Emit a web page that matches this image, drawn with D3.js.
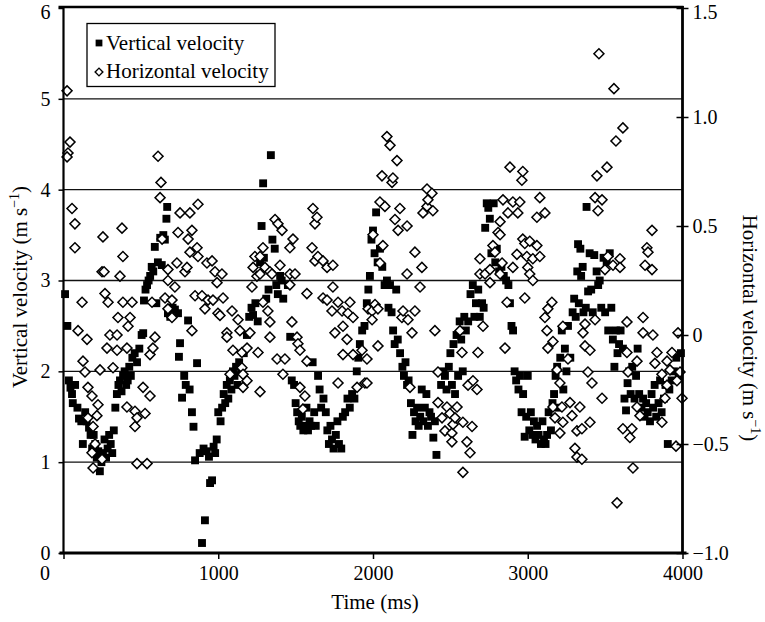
<!DOCTYPE html>
<html><head><meta charset="utf-8">
<script src="https://cdn.jsdelivr.net/npm/d3@7"></script>
<style>body{margin:0;background:#fff} text{font-family:"Liberation Serif","Times New Roman",serif;fill:#000}</style>
</head><body><svg id="c" width="765" height="622"></svg>
<script>
const xTicks=[0,1000,2000,3000,4000];
const leftTicks=[0,1,2,3,4,5,6];
const gridValues=[1,2,3,4,5];
const rightTicks=[-1.0,-0.5,0,0.5,1.0,1.5];
const rightTickLabels=["\u22121.0","\u22120.5","0","0.5","1.0","1.5"];
const seriesNames=["Vertical velocity","Horizontal velocity"];

// [time ms, vertical velocity m/s] (left axis)
const verticalVelocity=[
[10,2.85],[25,2.5],[35,1.9],[45,1.82],[55,1.75],[60,1.65],[75,1.85],[90,1.6],[100,1.48],[115,1.45],[125,1.2],[140,1.55],[150,1.45],[165,1.38],[175,1.3],[185,1.15],[195,1.3],[205,1.2],[215,1.05],[225,1.12],[235,0.9],[245,1.0],[255,1.1],[265,1.25],[275,1.05],[285,1.15],[295,1.3],[305,1.2],[315,1.1],[325,1.35],[335,1.6],[345,1.75],[355,1.85],[365,1.9],[375,1.78],[385,1.95],[395,2.0],[405,1.85],[415,1.9],[425,2.05],[435,1.95],[445,2.15],[460,2.2],[475,2.1],[490,2.25],[505,2.4],
[515,2.42],[520,2.78],[530,2.9],[540,2.95],[550,3.0],[560,3.05],[570,3.15],[580,3.1],[590,3.37],[600,2.75],[610,3.2],[625,3.47],[635,3.17],[645,3.5],[655,3.45],[665,3.68],[670,3.81],[675,2.64],[690,2.6],[705,2.7],[720,2.68],[740,2.64],[746,2.16],[753,2.31],[766,1.71],[780,1.95],[790,1.85],[805,2.56],[815,1.8],[830,1.55],[840,1.39],[850,1.02],[863,2.09],[880,1.1],[895,0.11],[905,1.15],[914,0.36],[925,1.12],[940,1.06],[947,0.77],[960,0.8],[970,1.17],[980,1.1],[990,1.25],
[1000,1.55],[1015,1.45],[1025,1.6],[1035,1.75],[1045,1.65],[1055,1.85],[1065,1.7],[1075,1.9],[1085,1.8],[1095,2.0],[1105,1.95],[1115,2.05],[1125,1.85],[1135,2.1],[1150,2.0],[1165,2.2],[1185,2.4],[1200,2.6],[1215,2.7],[1225,2.62],[1240,2.75],[1255,2.55],[1270,3.2],[1280,3.6],[1290,4.07],[1295,3.25],[1310,2.8],[1325,2.9],[1340,4.38],[1350,3.45],[1365,3.35],[1375,2.95],[1385,2.85],[1400,3.05],[1410,3.0],[1420,2.8],
[1450,2.95],[1465,2.38],[1475,1.9],[1490,1.85],[1500,1.65],[1510,1.55],[1520,1.45],[1530,1.4],[1540,1.5],[1550,1.35],[1560,1.4],[1570,1.6],[1580,1.35],[1590,1.45],[1600,1.4],[1610,2.1],[1620,1.55],[1630,1.4],[1645,1.95],[1655,1.8],[1665,1.6],[1680,1.7],[1695,1.55],[1705,1.35],[1715,1.2],[1725,1.4],[1735,1.25],[1745,1.15],[1760,1.3],[1770,1.45],[1780,1.2],[1795,1.15],[1805,1.5],[1820,1.55],[1835,1.7],[1850,1.6],[1865,1.75],[1880,1.7],[1895,2.0],[1905,2.15],[1915,2.3],[1930,2.45],[1945,2.5],[1960,2.75],[1970,2.9],[1980,3.05],[1990,3.45],[2000,3.55],
[2010,3.3],[2020,3.75],[2030,3.2],[2045,3.35],[2060,3.15],[2075,2.95],[2090,3.0],[2100,2.7],[2110,2.95],[2120,2.65],[2130,2.45],[2140,2.3],[2150,2.9],[2160,2.35],[2175,2.2],[2190,2.05],[2200,1.95],[2210,2.1],[2220,1.85],[2230,1.9],[2245,1.65],[2255,1.3],[2265,1.55],[2275,1.45],[2285,1.6],[2295,1.4],[2305,1.5],[2315,1.8],[2325,1.45],[2335,1.6],[2345,1.75],[2355,1.4],[2365,1.55],[2375,1.5],[2390,1.27],[2400,1.45],[2410,1.08],
[2440,1.85],[2455,2.0],[2465,1.95],[2475,1.8],[2490,2.05],[2500,2.2],[2510,1.85],[2520,2.3],[2530,1.75],[2540,2.4],[2550,1.95],[2560,2.55],[2570,2.35],[2580,2.0],[2590,2.6],[2600,2.45],[2615,2.55],[2630,2.85],[2645,2.95],[2655,2.6],[2665,2.75],[2680,2.9],[2690,2.6],[2705,2.75],[2715,2.7],[2725,3.58],[2735,3.85],[2745,3.8],[2755,3.68],[2765,3.3],[2780,3.85],[2790,3.2],[2800,3.35],[2815,3.1],[2830,3.15],[2845,3.05],[2860,3.0],
[2875,2.95],[2885,2.75],[2895,2.5],[2905,2.45],[2915,2.0],[2925,1.9],[2940,1.8],[2950,1.95],[2960,1.55],[2970,1.75],[2980,1.28],[2990,1.5],[3000,1.95],[3010,1.35],[3020,1.55],[3030,1.3],[3040,1.45],[3050,1.25],[3060,1.4],[3070,1.3],[3085,1.2],[3095,1.45],[3105,1.25],[3115,1.2],[3125,1.3],[3135,1.55],[3150,1.35],[3160,1.65],[3170,1.75],[3180,1.95],[3190,2.05],[3200,1.6],[3210,2.15],[3220,2.45],[3230,1.8],[3240,2.25],[3250,2.0],[3260,2.5],[3275,2.15],[3290,2.65],[3300,2.8],[3310,2.6],[3320,3.1],[3325,3.4],[3330,2.75],[3340,3.35],[3345,3.05],[3355,3.15],[3360,2.65],[3375,2.7],
[3380,3.81],[3390,2.88],[3400,3.3],[3410,2.9],[3420,2.65],[3430,3.28],[3445,3.1],[3455,2.95],[3465,3.0],[3475,2.7],[3490,3.25],[3500,2.65],[3510,3.2],[3520,2.45],[3530,3.3],[3540,2.7],[3550,2.35],[3560,2.05],[3570,2.45],[3580,2.2],[3590,2.3],[3600,2.45],[3615,2.25],[3625,1.7],[3635,1.57],[3645,1.87],[3655,2.0],[3665,1.75],[3675,2.05],[3690,1.7],[3700,1.95],[3710,2.25],[3720,1.75],[3735,1.6],[3745,1.7],[3755,1.5],[3765,1.65],[3775,1.55],[3790,1.45],[3800,1.75],[3810,1.6],[3820,1.85],[3830,1.5],[3845,1.65],[3855,1.9],[3865,1.55],[3880,1.7],[3890,1.85],[3905,1.2],[3915,1.8],[3930,1.9],[3945,2.0],[3960,2.15],[3975,1.95],[3990,2.2]
];

// [time ms, horizontal velocity m/s] (right axis)
const horizontalVelocity=[
[23,1.12],[42,0.885],[29,0.835],[23,0.817],[55,0.58],[74,0.51],[74,0.40],[94,0.02],[120,0.15],[126,-0.12],[139,-0.17],[152,-0.02],[158,-0.24],[158,-0.38],[184,-0.28],[184,-0.54],[191,-0.42],[191,-0.61],[204,-0.50],[216,-0.37],[223,-0.32],[236,-0.16],[249,0.29],[249,-0.57],[255,0.45],[262,0.29],[268,0.19],[281,-0.06],[288,0.15],[300,0.0],[320,-0.15],[346,0.0],[346,-0.07],[352,0.08],[365,0.27],[378,0.49],[384,0.36],[384,0.15],[410,-0.06],[410,-0.33],[417,0.04],[430,0.08],[443,0.15],[462,-0.35],[462,-0.42],[475,-0.38],[475,-0.59],[514,-0.24],[527,-0.36],[540,-0.59],[559,-0.09],[559,-0.28],[572,0.15],[578,-0.06],[591,-0.01],[611,0.82],[624,0.63],[630,0.70],[637,0.44],[656,0.17],[675,0.30],[675,0.25],[675,0.12],[701,0.16],[701,0.08],[720,0.22],[733,0.33],[740,0.47],[753,0.56],[785,0.29],[798,0.31],[805,0.44],[817,0.56],[817,0.38],[830,0.48],[830,0.02],[850,0.18],[863,0.40],[869,0.60],[869,0.36],[895,0.18],[914,0.12],[927,0.33],[934,0.16],[960,0.34],[966,0.16],[979,0.29],[992,0.24],[998,0.10],
[1011,0.09],[1024,0.28],[1031,0.17],[1056,0.01],[1056,-0.01],[1076,-0.18],[1089,0.11],[1095,-0.07],[1128,0.07],[1140,0.02],[1153,-0.08],[1153,-0.15],[1160,-0.18],[1160,-0.24],[1186,-0.06],[1186,-0.21],[1205,0.01],[1218,0.22],[1225,0.31],[1237,0.36],[1250,0.27],[1257,-0.08],[1270,0.36],[1270,0.28],[1270,-0.26],[1289,0.40],[1289,0.15],[1302,0.31],[1321,0.11],[1334,0.29],[1334,0.06],[1334,-0.01],[1347,0.28],[1367,0.53],[1380,-0.11],[1386,0.51],[1399,0.32],[1412,0.48],[1418,-0.18],[1431,-0.11],[1463,0.40],[1463,0.28],[1463,0.23],[1476,0.06],[1483,0.44],[1496,0.28],[1509,-0.01],[1515,-0.04],[1528,-0.07],[1528,-0.24],[1547,-0.34],[1560,-0.28],[1573,0.19],[1573,-0.12],[1606,0.40],[1612,0.58],[1625,0.51],[1625,0.34],[1638,0.54],[1644,0.36],[1677,0.34],[1677,0.17],[1703,0.31],[1703,0.16],[1735,0.11],[1741,0.32],[1741,0.22],[1754,0.01],[1774,0.15],[1774,-0.22],[1800,0.11],[1806,0.04],[1806,-0.09],[1832,-0.02],[1838,0.10],[1851,0.15],[1871,0.08],[1871,-0.09],[1897,-0.24],[1929,-0.07],[1948,-0.22],[1961,-0.11],[1961,-0.22],[1968,0.12],[1994,0.11],[1994,0.07],
[2000,0.46],[2013,0.14],[2032,0.12],[2032,-0.05],[2045,0.61],[2045,0.33],[2058,0.73],[2064,0.41],[2077,0.59],[2090,0.91],[2110,0.87],[2123,0.70],[2129,0.72],[2142,0.53],[2155,0.80],[2162,0.48],[2174,0.58],[2187,0.08],[2194,0.11],[2220,0.50],[2220,0.28],[2226,0.07],[2239,-0.24],[2252,0.01],[2271,0.38],[2271,0.11],[2304,0.22],[2316,0.31],[2323,0.56],[2349,0.67],[2349,0.59],[2355,0.62],[2381,0.65],[2387,0.57],[2400,0.02],[2420,-0.17],[2420,-0.31],[2446,-0.38],[2465,-0.44],[2478,-0.33],[2497,-0.36],[2510,-0.45],[2510,-0.49],[2517,-0.41],[2530,-0.38],[2543,-0.33],[2562,0.02],[2575,-0.08],[2581,-0.40],[2581,-0.63],[2607,-0.49],[2614,-0.23],[2627,-0.54],[2640,-0.42],[2646,-0.21],[2672,-0.25],[2678,-0.08],[2691,0.35],[2691,0.28],[2711,0.04],[2724,0.28],[2756,0.30],[2756,0.24],[2775,0.41],[2788,0.38],[2808,0.47],[2821,0.52],[2821,0.46],[2821,0.28],[2834,0.33],[2840,0.62],[2853,-0.06],[2866,0.15],[2872,0.56],[2885,0.77],[2904,0.61],[2904,0.31],[2930,0.37],[2936,0.56],[2949,0.61],[2962,0.71],[2968,0.75],[2968,0.44],[2981,0.42],[2981,0.17],[2994,0.36],
[3000,0.31],[3013,0.43],[3013,0.28],[3033,0.35],[3033,0.25],[3059,0.54],[3059,0.41],[3078,0.63],[3078,0.36],[3111,0.56],[3111,0.08],[3124,0.02],[3130,0.12],[3130,-0.06],[3156,0.15],[3163,-0.03],[3163,-0.33],[3176,-0.38],[3189,-0.16],[3208,-0.22],[3208,-0.45],[3221,-0.33],[3227,0.04],[3227,-0.40],[3260,-0.11],[3273,-0.31],[3286,-0.37],[3305,-0.52],[3318,-0.44],[3318,-0.56],[3337,-0.33],[3350,-0.43],[3350,-0.57],[3357,0.01],[3370,0.05],[3370,-0.05],[3389,-0.17],[3402,-0.07],[3402,-0.40],[3415,-0.22],[3435,0.63],[3435,0.07],[3447,0.73],[3454,0.57],[3460,1.29],[3480,0.62],[3480,-0.29],[3499,0.30],[3512,0.77],[3518,0.36],[3551,0.32],[3557,1.13],[3570,0.89],[3577,-0.77],[3596,0.35],[3596,0.31],[3615,0.95],[3615,-0.43],[3641,0.06],[3641,-0.08],[3648,-0.17],[3660,-0.47],[3673,-0.43],[3680,-0.61],[3706,-0.12],[3706,-0.33],[3725,-0.37],[3745,0.08],[3745,0.01],[3758,0.32],[3770,0.40],[3777,0.38],[3803,0.48],[3803,0.30],[3809,0.0],[3822,-0.13],[3835,-0.08],[3867,-0.18],[3867,-0.40],[3887,-0.29],[3900,-0.12],[3900,-0.23],[3919,-0.16],[3932,-0.08],[3958,-0.51],[3964,-0.21],[3971,0.01],[3984,-0.17],[3997,-0.29]
];

const svg=d3.select("#c");
const L=63.5,R=682.5,T=8,B=553;
const x=d3.scaleLinear().domain([0,4000]).range([L,R]);
const yL=d3.scaleLinear().domain([0,6]).range([B,T]);
const yR=d3.scaleLinear().domain([-1,1.5]).range([B,T]);
const FS=20;     // tick labels
const TFS=21;    // titles & legend

// gridlines
svg.append("g").selectAll("line").data(gridValues).join("line")
  .attr("x1",L).attr("x2",R).attr("y1",d=>yL(d)).attr("y2",d=>yL(d))
  .attr("stroke","#111").attr("stroke-width",1.3);

// points: vertical (filled squares)
const sq=d3.symbol().type(d3.symbolSquare).size(62);
svg.append("g").selectAll("path").data(verticalVelocity).join("path")
  .attr("d",sq).attr("transform",d=>`translate(${x(d[0])},${yL(d[1])})`)
  .attr("fill","#000");
// horizontal (open diamonds)
const dm=d3.symbol().type(d3.symbolSquare).size(50);
svg.append("g").selectAll("path").data(horizontalVelocity).join("path")
  .attr("d",dm).attr("transform",d=>`translate(${x(d[0])},${yR(d[1])}) rotate(45)`)
  .attr("fill","#fff").attr("stroke","#000").attr("stroke-width",1.5);

// left axis
const gl=svg.append("g").attr("transform",`translate(${L},0)`)
  .call(d3.axisLeft(yL).tickValues(leftTicks).tickSize(5).tickPadding(8).tickFormat(d3.format("d")));
gl.select(".domain").remove();
gl.selectAll("line").attr("stroke","#000").attr("stroke-width",1.5);
gl.selectAll("text").attr("font-size",FS).attr("font-family","Liberation Serif");
gl.selectAll(".tick").filter(d=>d===6).select("text").attr("dy","0.5em");
svg.append("line").attr("x1",L).attr("x2",L).attr("y1",T-1).attr("y2",B).attr("stroke","#000").attr("stroke-width",2.2);

// bottom axis
const gb=svg.append("g").attr("transform",`translate(0,${B})`)
  .call(d3.axisBottom(x).tickValues(xTicks).tickSize(6).tickPadding(7).tickFormat(d3.format("d")));
gb.select(".domain").remove();
gb.selectAll("line").attr("stroke","#000").attr("stroke-width",1.5);
gb.selectAll("text").attr("font-size",FS).attr("font-family","Liberation Serif");
gb.selectAll(".tick").filter(d=>d===0).select("text").attr("dx",-19);
svg.append("line").attr("x1",L-4).attr("x2",R+4).attr("y1",B).attr("y2",B).attr("stroke","#000").attr("stroke-width",3);

// top border
svg.append("line").attr("x1",L-5).attr("x2",R+1).attr("y1",T-1).attr("y2",T-1).attr("stroke","#000").attr("stroke-width",2.6);

// right axis
const gr=svg.append("g").attr("transform",`translate(${R},0)`)
  .call(d3.axisRight(yR).tickValues(rightTicks).tickSize(6).tickPadding(4).tickFormat((d,i)=>rightTickLabels[i]));
gr.select(".domain").remove();
gr.selectAll("line").attr("x1",-6).attr("stroke","#000").attr("stroke-width",1.5);
gr.selectAll("text").attr("font-size",FS).attr("font-family","Liberation Serif");
gr.selectAll(".tick").filter(d=>d===1.5).select("text").attr("dy","0.5em");
svg.append("line").attr("x1",R).attr("x2",R).attr("y1",T-2).attr("y2",B+1).attr("stroke","#000").attr("stroke-width",2.8);

// axis titles
const lt=svg.append("text").attr("transform","translate(20,287) rotate(-90)").attr("dy","0.35em").attr("text-anchor","middle").attr("font-size",TFS);
lt.append("tspan").text("Vertical velocity (m s");
lt.append("tspan").text("\u22121").attr("font-size",14).attr("dy",-8);
lt.append("tspan").text(")").attr("dy",8);
const rt=svg.append("text").attr("transform","translate(750,328) rotate(90)").attr("dy","0.35em").attr("text-anchor","middle").attr("font-size",TFS);
rt.append("tspan").text("Horizontal velocity (m s");
rt.append("tspan").text("\u22121").attr("font-size",14).attr("dy",-8);
rt.append("tspan").text(")").attr("dy",8);
svg.append("text").attr("x",375).attr("y",609).attr("text-anchor","middle").attr("font-size",TFS).text("Time (ms)");

// legend
const lg=svg.append("g");
lg.append("rect").attr("x",87).attr("y",23.5).attr("width",188).attr("height",63).attr("fill","#fff").attr("stroke","#000").attr("stroke-width",1.3);
lg.append("path").attr("d",d3.symbol().type(d3.symbolSquare).size(46)).attr("transform","translate(99,43)").attr("fill","#000");
lg.append("text").attr("x",106).attr("y",50).attr("font-size",TFS).text(seriesNames[0]);
lg.append("path").attr("d",d3.symbol().type(d3.symbolSquare).size(30)).attr("transform","translate(99,72) rotate(45)").attr("fill","#fff").attr("stroke","#000").attr("stroke-width",1.4);
lg.append("text").attr("x",106).attr("y",78).attr("font-size",TFS).text(seriesNames[1]);
</script></body></html>
